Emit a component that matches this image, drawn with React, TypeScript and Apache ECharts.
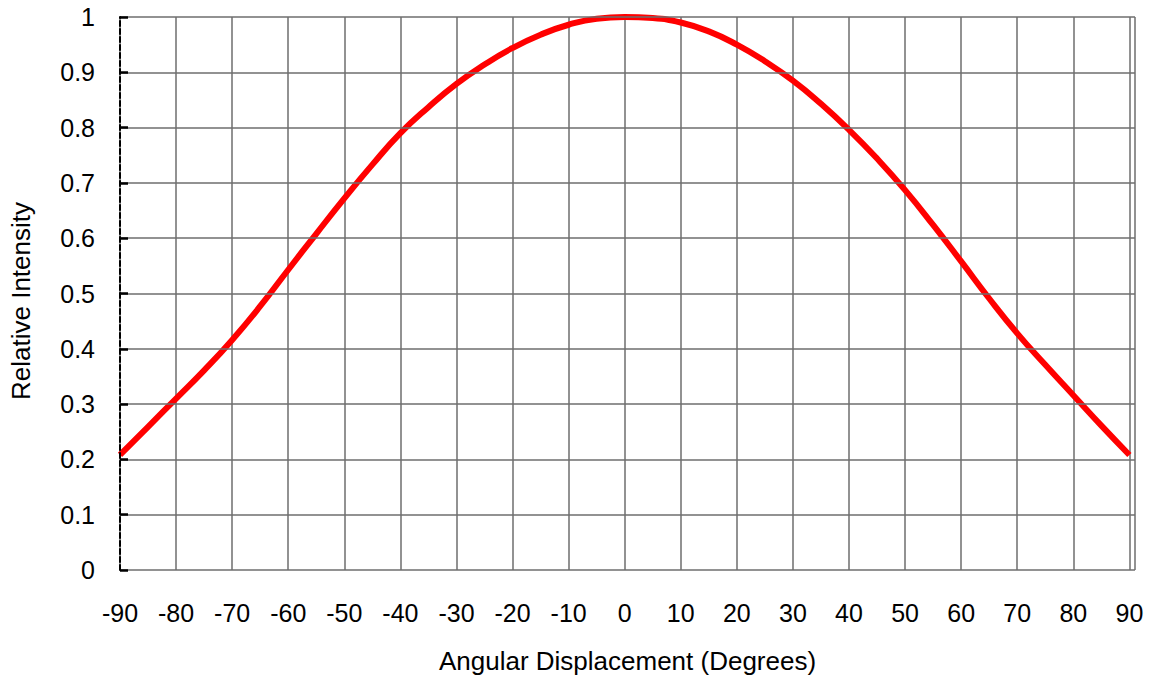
import React, { useEffect, useRef } from "react";
import * as echarts from "echarts";

const angles = [-90, -85, -80, -75, -70, -65, -60, -55, -50, -45, -40, -35, -30, -25, -20, -15, -10, -5, 0, 5, 10, 15, 20, 25, 30, 35, 40, 45, 50, 55, 60, 65, 70, 75, 80, 85, 90];
const intensity = [0.208, 0.259, 0.31, 0.361, 0.416, 0.477, 0.543, 0.608, 0.672, 0.733, 0.79, 0.837, 0.879, 0.914, 0.944, 0.968, 0.986, 0.997, 1.0, 0.998, 0.99, 0.974, 0.95, 0.92, 0.885, 0.843, 0.796, 0.744, 0.687, 0.624, 0.558, 0.491, 0.428, 0.371, 0.316, 0.261, 0.208];

const xName = "Angular Displacement (Degrees)";
const yName = "Relative Intensity";
const font = "'Liberation Sans', Arial, sans-serif";

export default function App() {
  const ref = useRef<HTMLDivElement>(null);
  useEffect(() => {
    if (!ref.current) return;
    const chart = echarts.init(ref.current, null, { renderer: "svg" });
    const grid = "#6e6e6e";
    chart.setOption({
      animation: false,
      backgroundColor: "#ffffff",
      textStyle: { fontFamily: font },
      grid: { left: 120, right: 20, top: 17, bottom: 112, show: false },
      xAxis: {
        type: "value",
        min: -90,
        max: 91,
        interval: 10,
        name: xName,
        nameLocation: "middle",
        nameGap: 78,
        nameTextStyle: { fontSize: 26, color: "#000", fontFamily: font },
        axisLine: { show: false },
        axisTick: { show: false },
        axisLabel: {
          fontSize: 25,
          color: "#000",
          margin: 30,
          fontFamily: font,
          showMaxLabel: false,
          formatter: (v: number) => (v % 10 === 0 ? String(v) : ""),
        },
        splitLine: { show: true, lineStyle: { color: grid, width: 1.5 } },
      },
      yAxis: {
        type: "value",
        min: 0,
        max: 1,
        interval: 0.1,
        name: yName,
        nameLocation: "middle",
        nameGap: 86,
        nameTextStyle: { fontSize: 26, color: "#000", fontFamily: font, padding: [0, 15, 0, 0] },
        axisLine: { show: true, onZero: false, lineStyle: { color: "#000", width: 2, type: [5, 3] } },
        axisTick: { show: true, inside: true, length: 8, lineStyle: { color: "#000", width: 2.5 } },
        axisLabel: { fontSize: 25, color: "#000", margin: 25, fontFamily: font },
        splitLine: { show: true, lineStyle: { color: grid, width: 1.5 } },
        z: 10,
      },
      series: [
        {
          type: "line",
          data: angles.map((a, i) => [a, intensity[i]]),
          smooth: true,
          showSymbol: false,
          lineStyle: { color: "#ff0000", width: 6 },
          z: 5,
        },
      ],
    });
    return () => chart.dispose();
  }, []);
  return <div ref={ref} style={{ position: "absolute", left: 0, top: 0, width: 1155, height: 682 }} />;
}
